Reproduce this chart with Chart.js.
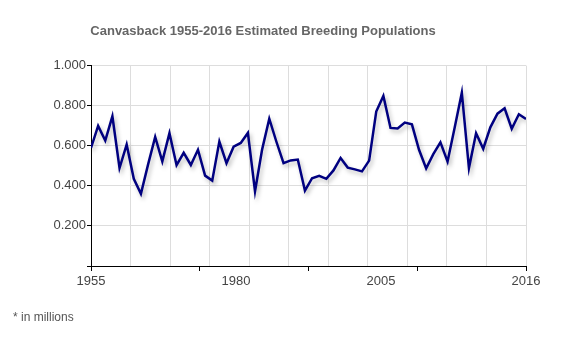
<!DOCTYPE html>
<html>
<head>
<meta charset="utf-8">
<script src="https://cdn.jsdelivr.net/npm/chart.js@4/dist/chart.umd.min.js"></script>
<style>
    body { margin: 0; background: #fff; }
    #wrap { position: relative; width: 580px; height: 350px; }
    #note { position: absolute; left: 13px; top: 310px; font: 12px 'Liberation Sans', Arial, sans-serif; color: #555; }
</style>
</head>
<body>
<div id="wrap">
    <canvas id="myChart" width="580" height="350"></canvas>
    <div id="note">* in millions</div>
</div>
<script>
const years = [1955, 1956, 1957, 1958, 1959, 1960, 1961, 1962, 1963, 1964,
    1965, 1966, 1967, 1968, 1969, 1970, 1971, 1972, 1973, 1974,
    1975, 1976, 1977, 1978, 1979, 1980, 1981, 1982, 1983, 1984,
    1985, 1986, 1987, 1988, 1989, 1990, 1991, 1992, 1993, 1994,
    1995, 1996, 1997, 1998, 1999, 2000, 2001, 2002, 2003, 2004,
    2005, 2006, 2007, 2008, 2009, 2010, 2011, 2012, 2013, 2014,
    2015, 2016];

const population = [0.589, 0.699, 0.626, 0.747, 0.489, 0.606, 0.435, 0.360, 0.506, 0.644,
    0.522, 0.663, 0.503, 0.565, 0.504, 0.580, 0.451, 0.426, 0.621, 0.513,
    0.595, 0.614, 0.664, 0.373, 0.582, 0.735, 0.620, 0.513, 0.527, 0.531,
    0.376, 0.438, 0.450, 0.435, 0.477, 0.539, 0.491, 0.482, 0.472, 0.526,
    0.771, 0.849, 0.689, 0.686, 0.716, 0.707, 0.580, 0.487, 0.558, 0.617,
    0.521, 0.691, 0.865, 0.489, 0.662, 0.585, 0.692, 0.760, 0.787, 0.685,
    0.757, 0.734];

// the original axis shows these 4 labels, evenly spread, plus 11 grid columns and 4 tick intervals
const xLabels = ['1955', '1980', '2005', '2016'];
const gridColumns = 11;
const tickIntervals = 4;

document.addEventListener('DOMContentLoaded', function () {
    const ctx = document.getElementById('myChart');
    const x0 = years[0];
    const x1 = years[years.length - 1];
    const span = x1 - x0;

    function onStep(v, n) {
        const k = (v - x0) / (span / n);
        return Math.abs(k - Math.round(k)) < 1e-6;
    }

    const shadow = {
        id: 'lineShadow',
        beforeDatasetDraw(chart) {
            const c = chart.ctx;
            c.save();
            c.shadowColor = 'rgba(0,0,0,0.25)';
            c.shadowBlur = 4;
            c.shadowOffsetX = 2;
            c.shadowOffsetY = 3;
        },
        afterDatasetDraw(chart) {
            chart.ctx.restore();
        }
    };

    new Chart(ctx, {
        type: 'line',
        data: {
            datasets: [{
                label: 'Canvasback',
                data: years.map((y, i) => ({ x: y, y: population[i] })),
                borderColor: '#000080',
                borderWidth: 2.5,
                pointRadius: 0,
                tension: 0,
                fill: false
            }]
        },
        options: {
            responsive: false,
            animation: false,
            layout: {
                padding: { left: 0, right: 54, top: 0, bottom: 60 }
            },
            scales: {
                x: {
                    type: 'linear',
                    min: x0,
                    max: x1,
                    afterBuildTicks: function (scale) {
                        const vals = [];
                        [gridColumns, tickIntervals, xLabels.length - 1].forEach(function (n) {
                            for (let k = 0; k <= n; k++) {
                                const v = x0 + k * span / n;
                                if (!vals.some(w => Math.abs(w - v) < 1e-6)) vals.push(v);
                            }
                        });
                        vals.sort((a, b) => a - b);
                        scale.ticks = vals.map(v => ({ value: v }));
                    },
                    afterFit: function (scale) {
                        scale.height = 24;
                    },
                    grid: {
                        color: c => (c.tick && onStep(c.tick.value, gridColumns)) ? '#dddddd' : 'rgba(0,0,0,0)',
                        tickColor: c => (c.tick && onStep(c.tick.value, tickIntervals)) ? '#000' : 'rgba(0,0,0,0)',
                        tickLength: 5
                    },
                    border: { color: '#000', width: 1 },
                    ticks: {
                        autoSkip: false,
                        maxRotation: 0,
                        padding: 3,
                        color: '#444',
                        font: { family: "'Liberation Sans', Arial, sans-serif", size: 13 },
                        callback: function (v) {
                            const n = xLabels.length - 1;
                            if (!onStep(v, n)) return '';
                            return xLabels[Math.round((v - x0) / (span / n))];
                        }
                    }
                },
                y: {
                    min: 0,
                    max: 1,
                    afterFit: function (scale) {
                        scale.width = 91;
                    },
                    grid: {
                        color: '#dddddd',
                        tickColor: '#000',
                        tickLength: 4
                    },
                    border: { color: '#000', width: 1 },
                    ticks: {
                        stepSize: 0.2,
                        padding: 1,
                        color: '#444',
                        font: { family: "'Liberation Sans', Arial, sans-serif", size: 13 },
                        callback: v => v === 0 ? '' : v.toFixed(3)
                    }
                }
            },
            plugins: {
                legend: { display: false },
                tooltip: { enabled: false },
                title: {
                    display: true,
                    text: 'Canvasback 1955-2016 Estimated Breeding Populations',
                    color: '#666',
                    font: { family: "'Liberation Sans', Arial, sans-serif", size: 13, weight: 'bold' },
                    padding: { top: 24, bottom: 26 }
                }
            }
        },
        plugins: [shadow]
    });
});
</script>
</body>
</html>
